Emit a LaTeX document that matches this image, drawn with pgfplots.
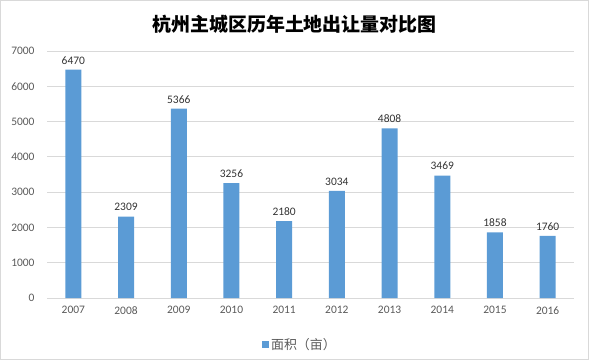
\documentclass[border=0pt]{standalone}
\usepackage{fontspec}
\setmainfont{Carlito}
\newfontfamily\cjk{Noto Sans CJK SC}
\usepackage{pgfplots}
\pgfplotsset{compat=1.18}
\definecolor{barblue}{HTML}{5B9BD5}
\definecolor{gridgray}{HTML}{D9D9D9}
\definecolor{txtgray}{HTML}{595959}
\begin{document}
\begin{tikzpicture}[x=1bp,y=1bp]
\draw[gridgray, line width=1bp] (0.5,0.5) rectangle (588.5,359.5);
\node[font=\cjk\bfseries\fontsize{19}{21}\selectfont, text=black] at (294.5,336) {杭州主城区历年土地出让量对比图};
\begin{axis}[
  at={(47bp,62bp)}, anchor=south west,
  scale only axis, width=527bp, height=247bp,
  ymin=0, ymax=7000, ytick distance=1000,
  xmin=-0.5, xmax=9.5,
  xtick=data,
  xticklabels={2007,2008,2009,2010,2011,2012,2013,2014,2015,2016},
  ymajorgrids, grid style={gridgray, line width=0.8bp},
  axis line style={draw=none},
  axis x line*=bottom,
  x axis line style={draw=gridgray, line width=0.8bp},
  major tick length=0pt,
  tick label style={font=\fontsize{11.5}{13}\selectfont, text=txtgray},
  /pgf/number format/assume math mode=true,
  /pgf/number format/set thousands separator={},
  yticklabel style={xshift=-9bp},
  xticklabel style={yshift=-5bp},
  ybar, bar width=16bp,
  nodes near coords,
  nodes near coords style={font=\fontsize{11.5}{13}\selectfont, text=black!80, yshift=2bp, /pgf/number format/set thousands separator={}},
  legend style={at={(0.48,-0.145)}, anchor=north, draw=none, fill=none, font=\cjk\fontsize{13}{15}\selectfont, text=txtgray, legend cell align=left, inner xsep=0pt},
  legend image code/.code={\fill[barblue] (0bp,-3.5bp) rectangle (7bp,3.5bp);},
]
\addplot[fill=barblue, draw=none] coordinates {
(0,6470) (1,2309) (2,5366) (3,3256) (4,2180) (5,3034) (6,4808) (7,3469) (8,1858) (9,1760)};
\addlegendentry{面积（亩）}
\end{axis}
\end{tikzpicture}
\end{document}
